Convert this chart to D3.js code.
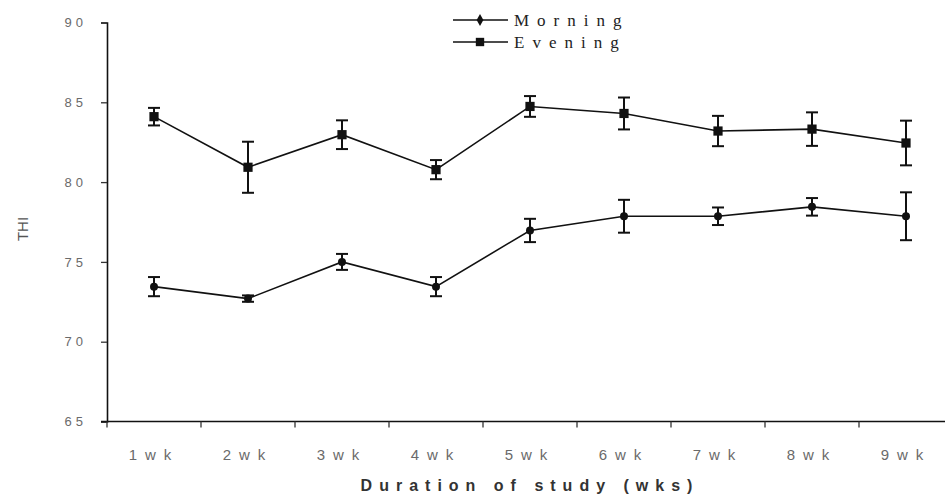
<!DOCTYPE html>
<html><head><meta charset="utf-8">
<script src="https://cdn.jsdelivr.net/npm/d3@7"></script>
<style>body{margin:0;background:#fff}svg{display:block}</style>
</head><body>
<svg id="c" width="945" height="497"></svg>
<script>
const weeks = ["1wk","2wk","3wk","4wk","5wk","6wk","7wk","8wk","9wk"];
const morning = [73.45, 72.7, 75.0, 73.45, 76.97, 77.86, 77.86, 78.45, 77.86];
const morningErr = [0.6, 0.2, 0.5, 0.6, 0.73, 1.03, 0.55, 0.55, 1.5];
const evening = [84.1, 80.93, 82.97, 80.78, 84.74, 84.3, 83.2, 83.32, 82.45];
const eveningErr = [0.55, 1.6, 0.9, 0.6, 0.65, 1.0, 0.95, 1.05, 1.4];
const yTicks = [65, 70, 75, 80, 85, 90];

const svg = d3.select("#c");
const x = d3.scaleBand().domain(weeks).range([107, 953]).padding(0);
const y = d3.scaleLinear().domain([65, 90]).range([421.5, 22.5]);

// Y axis
const yAx = svg.append("g").attr("transform","translate(107,0)")
  .call(d3.axisLeft(y).tickValues(yTicks).tickSize(6).tickPadding(14));
yAx.select(".domain").attr("stroke","#111").attr("stroke-width",1.6);
yAx.selectAll(".tick line").attr("stroke","#333").attr("stroke-width",1.3);
yAx.selectAll(".tick text").attr("fill","#6a6a6a").style("font-family","Liberation Sans, Arial, sans-serif")
  .style("font-size","13px").style("letter-spacing","4px");

// X axis
const xAx = svg.append("g").attr("transform","translate(0,421.5)");
xAx.append("line").attr("x1",101).attr("x2",945).attr("y1",0).attr("y2",0)
  .attr("stroke","#111").attr("stroke-width",1.6);
xAx.selectAll("line.tk").data(weeks).join("line").attr("class","tk")
  .attr("x1",d=>x(d)).attr("x2",d=>x(d)).attr("y1",0).attr("y2",6)
  .attr("stroke","#333").attr("stroke-width",1.3);
xAx.selectAll("text").data(weeks).join("text")
  .attr("x",d=>x(d)+x.bandwidth()/2).attr("y",38.5)
  .attr("text-anchor","middle").attr("fill","#6a6a6a")
  .style("font-family","Liberation Sans, Arial, sans-serif").style("font-size","15px")
  .style("letter-spacing","8px")
  .text(d=>d);

// Axis titles
svg.append("text").attr("x",530).attr("y",491).attr("text-anchor","middle")
  .attr("fill","#333").style("font-family","Liberation Sans, Arial, sans-serif")
  .style("font-size","16px").style("font-weight","bold").style("letter-spacing","7px")
  .text("Duration of study (wks)");
svg.append("text").attr("transform","translate(28,229) rotate(-90)").attr("text-anchor","middle")
  .attr("fill","#555").style("font-family","Liberation Sans, Arial, sans-serif")
  .style("font-size","15px").text("THI");

const cx = d => x(d) + x.bandwidth()/2;
const line = d3.line().x((d,i)=>cx(weeks[i])).y(d=>y(d));

function series(vals, errs, sym, size){
  const g = svg.append("g");
  g.append("path").datum(vals).attr("d",line).attr("fill","none").attr("stroke","#111").attr("stroke-width",1.6);
  vals.forEach((v,i)=>{
    const xc = cx(weeks[i]);
    const t = y(v+errs[i]), b = y(v-errs[i]);
    g.append("line").attr("x1",xc).attr("x2",xc).attr("y1",t).attr("y2",b).attr("stroke","#111").attr("stroke-width",2);
    g.append("line").attr("x1",xc-6).attr("x2",xc+6).attr("y1",t).attr("y2",t).attr("stroke","#111").attr("stroke-width",2);
    g.append("line").attr("x1",xc-6).attr("x2",xc+6).attr("y1",b).attr("y2",b).attr("stroke","#111").attr("stroke-width",2);
    g.append("path").attr("d",d3.symbol().type(sym).size(size)()).attr("transform",`translate(${xc},${y(v)})`).attr("fill","#111");
  });
}
series(evening, eveningErr, d3.symbolSquare, 85);
series(morning, morningErr, d3.symbolCircle, 50);

// Legend
const leg = [["Morning", d3.symbolDiamond, 40, 20], ["Evening", d3.symbolSquare, 70, 42]];
leg.forEach(([name, sym, size, ly])=>{
  svg.append("line").attr("x1",453).attr("x2",508).attr("y1",ly).attr("y2",ly).attr("stroke","#111").attr("stroke-width",1.6);
  svg.append("path").attr("d",d3.symbol().type(sym).size(size)()).attr("transform",`translate(480,${ly})`).attr("fill","#111");
  svg.append("text").attr("x",514).attr("y",ly+6).attr("fill","#222")
    .style("font-family","Liberation Serif, Times New Roman, serif").style("font-size","17px")
    .style("letter-spacing","8px").text(name);
});
</script>
</body></html>
